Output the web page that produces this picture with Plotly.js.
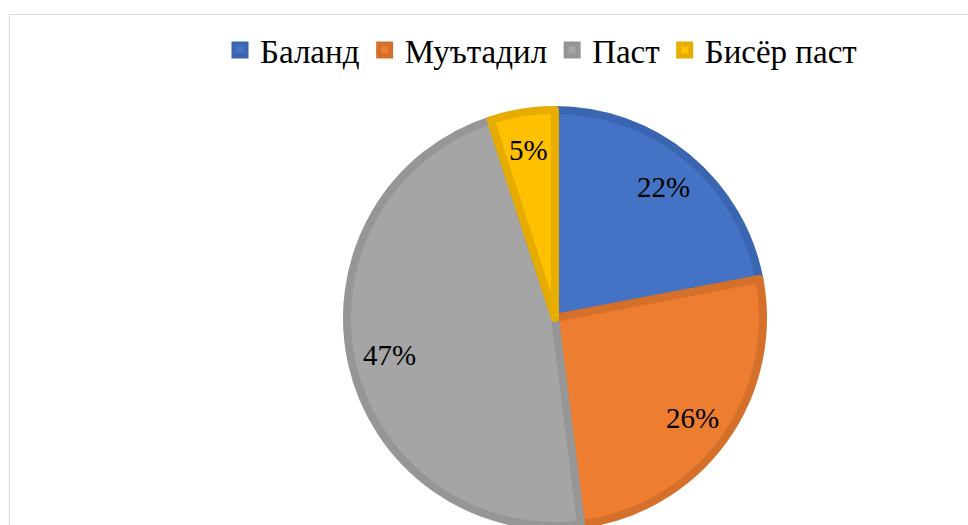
<!DOCTYPE html>
<html>
<head>
<meta charset="utf-8">
<script src="https://cdn.plot.ly/plotly-3.0.1.min.js"></script>
<style>
  html, body { margin: 0; padding: 0; overflow: hidden; background: #fff; }
  #frame { position: absolute; left: 9px; top: 14px; width: 1100px; height: 700px;
           border-left: 1.5px solid #d9d9d9; border-top: 1.5px solid #d9d9d9; pointer-events: none; }
  #chart { position: absolute; left: 0; top: 0; width: 968px; height: 600px; }
</style>
</head>
<body>
<div id="frame"></div>
<div id="chart"></div>
<script>
// Data
const categories = ["Баланд", "Муътадил", "Паст", "Бисёр паст"];
const shares = [22, 26, 47, 5];
const labelTexts = ["22%", "26%", "47%", "5%"];

const fillColors = ["#4472C4", "#ED7D31", "#A5A5A5", "#FFC000"];
const lineColors = ["#3A65B1", "#D5702B", "#969696", "#E6AD00"];
const fams = ["Liberation Serif"];

const W = 968, H = 600;
const cx = 555, cy = 318, r = 208;
const labelRadius = 0.8;

const total = shares.reduce((a, b) => a + b, 0);
let cum = 0;
const annotations = shares.map((v, i) => {
  const mid = (cum + v / 2) / total * 2 * Math.PI;
  cum += v;
  const px = cx + labelRadius * (r + 4) * Math.sin(mid);
  const py = cy - labelRadius * (r + 4) * Math.cos(mid);
  return {
    xref: "paper", yref: "paper",
    x: px / W, y: (H - py) / H,
    text: labelTexts[i], showarrow: false,
    xanchor: "center", yanchor: "middle",
    font: { family: fams[0], size: 29, color: "#000000" }
  };
});

Plotly.newPlot("chart", [{
  type: "pie",
  labels: categories,
  values: shares,
  textinfo: "none",
  sort: false,
  direction: "clockwise",
  marker: { colors: fillColors, line: { color: lineColors, width: 8 } },
  domain: {
    x: [(cx - r) / W, (cx + r) / W],
    y: [(H - cy - r) / H, (H - cy + r) / H]
  }
}], {
  width: W,
  height: H,
  margin: { l: 0, r: 0, t: 0, b: 0 },
  paper_bgcolor: "rgba(0,0,0,0)",
  annotations,
  legend: {
    orientation: "h",
    x: 541 / W,
    xanchor: "center",
    y: (H - 50) / H,
    yanchor: "middle",
    font: { family: fams[0], size: 33, color: "#000000" }
  }
}, { displayModeBar: false });
</script>
</body>
</html>
